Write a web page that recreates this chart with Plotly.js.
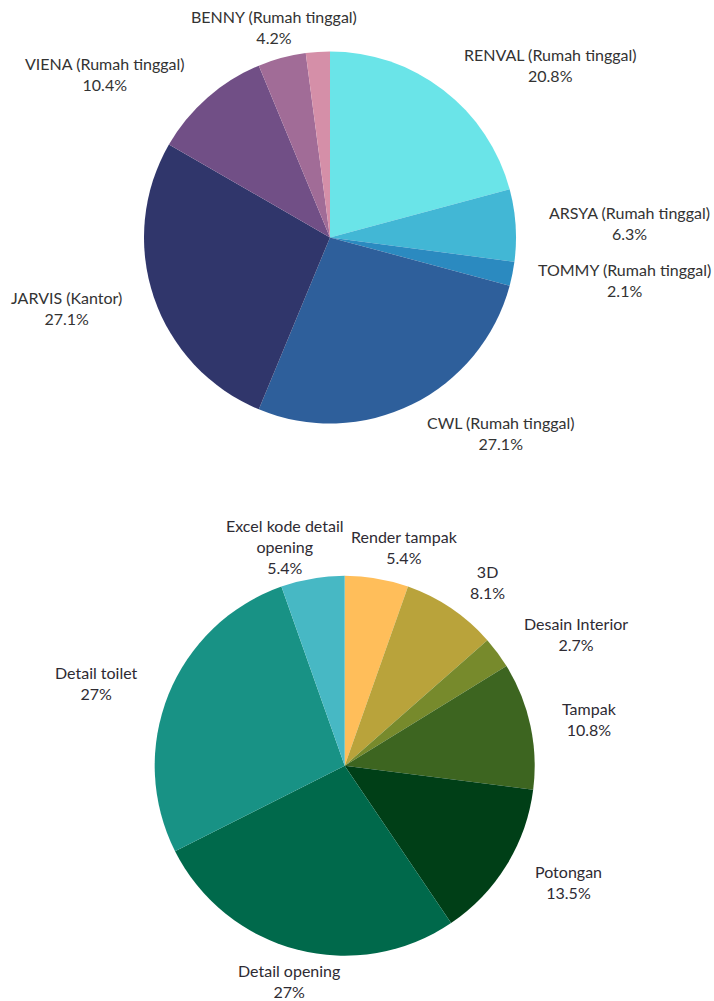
<!DOCTYPE html>
<html>
<head>
<meta charset="utf-8">
<script src="https://cdn.plot.ly/plotly-3.0.1.min.js"></script>
<style>
  html, body { margin: 0; padding: 0; background: #ffffff; }
  #chart { width: 714px; height: 1001px; }
</style>
</head>
<body>
<div id="chart"></div>
<script>
// ---- Data ----
const topLabels = ["RENVAL (Rumah tinggal)", "ARSYA (Rumah tinggal)", "TOMMY (Rumah tinggal)", "CWL (Rumah tinggal)", "JARVIS (Kantor)", "VIENA (Rumah tinggal)", "BENNY (Rumah tinggal)", "Lainnya"];
const topValues = [10, 3, 1, 13, 13, 5, 2, 1];
const topShowLabel = [true, true, true, true, true, true, true, false];
const topColors = ["#6AE4E8", "#42B7D5", "#2B8AC0", "#2E5F9B", "#30366B", "#714F86", "#A16C97", "#D58FA8"];

const botLabels = ["Render tampak", "3D", "Desain Interior", "Tampak", "Potongan", "Detail opening", "Detail toilet", "Excel kode detail opening"];
const botDisplay = ["Render tampak", "3D", "Desain Interior", "Tampak", "Potongan", "Detail opening", "Detail toilet", "Excel kode detail<br>opening"];
const botValues = [2, 3, 1, 4, 5, 10, 10, 2];
const botColors = ["#FFBE5A", "#B9A33B", "#778A2C", "#3D6520", "#003F17", "#00694B", "#189285", "#47B8C4"];

// ---- Layout constants ----
const W = 714, H = 1001;
const FONT = "Lato";
const FS = 16;
const LH = FS * 1.3;

const topPie = { cx: 330, cy: 237.5, r: 186, gap: 32 };
const botPie = { cx: 344.7, cy: 765.7, r: 190, gap: 32 };

const ctx = document.createElement("canvas").getContext("2d");
ctx.font = FS + "px " + FONT;

function fmtPct(v, total) {
  const p = v / total * 100;
  let s = p.toFixed(1);
  if (Math.abs(p - Math.round(p)) < 0.05) s = String(Math.round(p));
  return s + "%";
}

function makeAnnotations(pie, labels, values, show, color) {
  const total = values.reduce((a, b) => a + b, 0);
  let cum = 0;
  const boxes = [];
  values.forEach((v, i) => {
    const mid = (cum + v / 2) / total * 2 * Math.PI;
    cum += v;
    if (!show[i]) return;
    const dx = Math.sin(mid), dy = -Math.cos(mid);
    const d = pie.r + pie.gap;
    const px = pie.cx + d * dx, py = pie.cy + d * dy;
    const lines = labels[i].split("<br>").concat([fmtPct(v, total)]);
    const w = Math.max(...lines.map(l => ctx.measureText(l).width)) + 2;
    const h = lines.length * LH;
    let cx = px;
    if (dx > 0.3) cx = px + w / 2;
    else if (dx < -0.3) cx = px - w / 2;
    boxes.push({ cx: cx, cy: py, w: w, h: h, text: lines.join("<br>") });
  });
  // push overlapping labels apart horizontally
  const pad = 6;
  for (let it = 0; it < 5; it++) {
    for (let a = 0; a < boxes.length; a++) {
      for (let b = a + 1; b < boxes.length; b++) {
        const A = boxes[a], B = boxes[b];
        const ov = (A.w + B.w) / 2 + pad - Math.abs(A.cx - B.cx);
        const vov = (A.h + B.h) / 2 - Math.abs(A.cy - B.cy);
        if (ov > 0 && vov > 0) {
          const s = A.cx < B.cx ? -1 : 1;
          A.cx += s * ov / 2;
          B.cx -= s * ov / 2;
        }
      }
    }
  }
  // keep inside the canvas
  boxes.forEach(B => {
    if (B.cx + B.w / 2 > W - 2) B.cx = W - 2 - B.w / 2;
    if (B.cx - B.w / 2 < 2) B.cx = 2 + B.w / 2;
  });
  return boxes.map(B => ({
    xref: "paper", yref: "paper",
    x: B.cx / W, y: 1 - B.cy / H,
    xanchor: "center", yanchor: "middle",
    text: B.text,
    showarrow: false,
    align: "center",
    borderpad: 0,
    font: { family: FONT, size: FS, color: color }
  }));
}

function domainOf(p) {
  return {
    x: [(p.cx - p.r) / W, (p.cx + p.r) / W],
    y: [1 - (p.cy + p.r) / H, 1 - (p.cy - p.r) / H]
  };
}

const traces = [
  {
    type: "pie",
    labels: topLabels, values: topValues,
    marker: { colors: topColors, line: { width: 0 } },
    sort: false, direction: "clockwise", rotation: 0,
    textinfo: "none", hoverinfo: "label+percent",
    domain: domainOf(topPie)
  },
  {
    type: "pie",
    labels: botLabels, values: botValues,
    marker: { colors: botColors, line: { width: 0 } },
    sort: false, direction: "clockwise", rotation: 0,
    textinfo: "none", hoverinfo: "label+percent",
    domain: domainOf(botPie)
  }
];

const annotations = makeAnnotations(topPie, topLabels, topValues, topShowLabel, "#333333")
  .concat(makeAnnotations(botPie, botDisplay, botValues, botValues.map(() => true), "#2E2B33"));

const layout = {
  width: W, height: H,
  margin: { l: 0, r: 0, t: 0, b: 0 },
  paper_bgcolor: "#ffffff",
  showlegend: false,
  annotations: annotations
};

Plotly.newPlot("chart", traces, layout, { displayModeBar: false, staticPlot: true });
</script>
</body>
</html>
